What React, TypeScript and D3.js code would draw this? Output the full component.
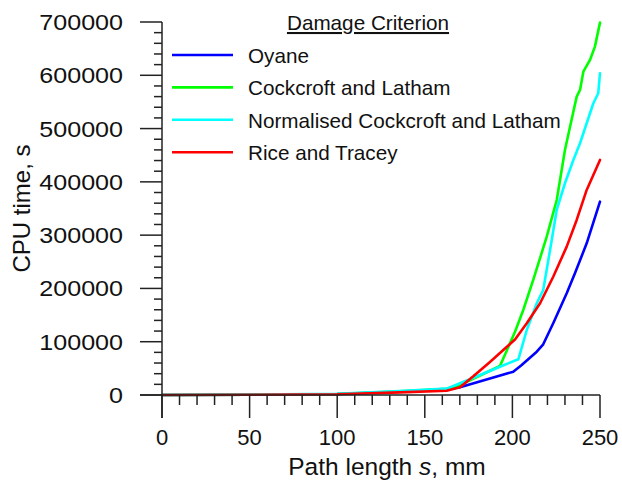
import React from "react";
import * as d3 from "d3";

// Path length s (mm) and CPU time (s) for each damage criterion
const oyaneS = [0, 50, 100, 135.8, 162.5, 170.1, 200.5, 205.3, 213.9, 217.6, 223.3, 231, 235.7, 242.4, 250];
const oyaneT = [0, 600, 1800, 6200, 10700, 14450, 43700, 56300, 81300, 95200, 134600, 190900, 228400, 284700, 362800];

const cockcroftS = [0, 50, 100, 135.8, 162.5, 170.1, 192.9, 201.5, 206.2, 211.9, 219.6, 225.3, 230, 232.9, 236.7, 238.6, 240.5, 244.3, 247.1, 250];
const cockcroftT = [0, 600, 1900, 6800, 11800, 18770, 54400, 118800, 159500, 215900, 297100, 366000, 459900, 503600, 560000, 572500, 606800, 628800, 653800, 698800];

const normalisedS = [0, 50, 100, 135.8, 162.5, 170.1, 181.5, 192.9, 203.4, 208.2, 213.9, 217.6, 221.5, 225.3, 230, 234.8, 238.6, 242.4, 246.2, 249, 250];
const normalisedT = [0, 700, 2200, 7500, 12000, 21960, 37540, 53100, 67000, 122000, 172100, 197100, 272200, 347200, 397400, 441100, 472400, 510000, 547500, 566300, 603800];

const riceS = [0, 50, 100, 135.8, 162.5, 170.1, 177.7, 187.2, 194.8, 201.5, 208.2, 215.8, 223.3, 231, 236.7, 242.4, 250];
const riceT = [0, 400, 1400, 5000, 8070, 14450, 35000, 62000, 84500, 104000, 134600, 172100, 222000, 278400, 328500, 384800, 441100];

const seriesNames = ["Oyane", "Cockcroft and Latham", "Normalised Cockcroft and Latham", "Rice and Tracey"];
const seriesColors = ["#0000ff", "#00ff00", "#00ffff", "#ff0000"];
const seriesS = [oyaneS, cockcroftS, normalisedS, riceS];
const seriesT = [oyaneT, cockcroftT, normalisedT, riceT];

const xTicks = [0, 50, 100, 150, 200, 250];
const yTicks = [0, 100000, 200000, 300000, 400000, 500000, 600000, 700000];

const W = 622;
const H = 484;
const margin = { left: 162, top: 22, right: 22, bottom: 89 };
const FONT = "'Liberation Sans', Arial, Helvetica, sans-serif";

export default function App() {
  const x = d3.scaleLinear().domain([0, 250]).range([margin.left, W - margin.right]);
  const y = d3.scaleLinear().domain([0, 700000]).range([H - margin.bottom, margin.top]);
  const x0 = x(0);
  const y0 = y(0);

  const line = d3
    .line<[number, number]>()
    .x((d) => x(d[0]))
    .y((d) => y(d[1]));

  const xMinor = d3.range(0, 251, 10).filter((v) => v % 50 !== 0);
  const yMinor = d3.range(0, 700001, 20000).filter((v) => v % 100000 !== 0);

  const axisColor = "#222";

  return (
    <svg
      width={W}
      height={H}
      viewBox={`0 0 ${W} ${H}`}
      style={{ position: "absolute", left: 0, top: 0, background: "#fff" }}
      fontFamily={FONT}
    >
      <rect x={0} y={0} width={W} height={H} fill="#fff" />

      {/* data curves */}
      <g fill="none" strokeWidth={2.6} strokeLinejoin="round" strokeLinecap="round">
        {seriesS.map((sv, i) => (
          <path
            key={seriesNames[i]}
            d={line(sv.map((s, j) => [s, seriesT[i][j]] as [number, number])) || ""}
            stroke={seriesColors[i]}
          />
        ))}
      </g>

      {/* axes */}
      <g stroke={axisColor} strokeWidth={1.5}>
        <line x1={x0 - 22} x2={x(250)} y1={y0} y2={y0} />
        <line x1={x0} x2={x0} y1={y(700000)} y2={y0 + 23} />
        {xTicks.map((v) => (
          <line key={"xt" + v} x1={x(v)} x2={x(v)} y1={y0} y2={y0 + 23} />
        ))}
        {xMinor.map((v) => (
          <line key={"xm" + v} x1={x(v)} x2={x(v)} y1={y0} y2={y0 + 10} />
        ))}
        {yTicks.map((v) => (
          <line key={"yt" + v} x1={x0 - 22} x2={x0} y1={y(v)} y2={y(v)} />
        ))}
        {yMinor.map((v) => (
          <line key={"ym" + v} x1={x0 - 8} x2={x0} y1={y(v)} y2={y(v)} />
        ))}
      </g>

      {/* tick labels */}
      <g fill="#111" fontSize={22}>
        {xTicks.map((v) => (
          <text key={"xl" + v} x={x(v)} y={y0 + 50} textAnchor="middle">
            {v}
          </text>
        ))}
        {yTicks.map((v) => (
          <g key={"yl" + v} transform={`translate(${x0 - 39}, ${y(v) + 8}) scale(1.14, 1)`}>
            <text x={0} y={0} textAnchor="end">
              {v}
            </text>
          </g>
        ))}
      </g>

      {/* axis titles */}
      <text x={(x(0) + x(250)) / 2 + 6} y={H - 9} textAnchor="middle" fontSize={24.5} fill="#111">
        Path length <tspan fontStyle="italic">s</tspan>, mm
      </text>
      <text
        transform={`translate(30, ${(y(0) + y(700000)) / 2}) rotate(-90)`}
        textAnchor="middle"
        fontSize={24}
        fill="#111"
      >
        CPU time, s
      </text>

      {/* legend */}
      <g fontSize={20.7} fill="#111">
        <text x={368} y={30} textAnchor="middle" textDecoration="underline">
          Damage Criterion
        </text>
        {seriesNames.map((name, i) => {
          const ly = 55 + i * 32.4;
          return (
            <g key={"lg" + name}>
              <line x1={172} x2={233} y1={ly} y2={ly} stroke={seriesColors[i]} strokeWidth={2.6} />
              <text x={248} y={ly + 8}>
                {name}
              </text>
            </g>
          );
        })}
      </g>
    </svg>
  );
}
